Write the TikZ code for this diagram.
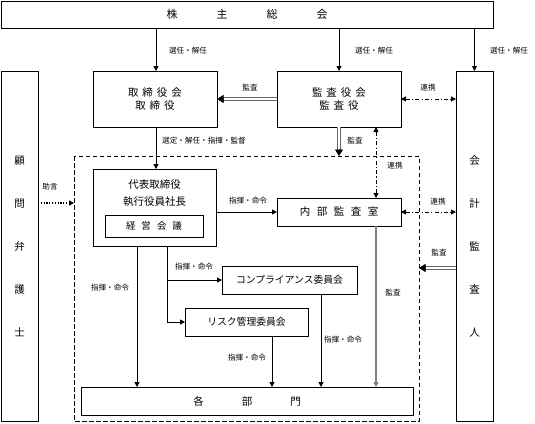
\documentclass[tikz,border=0pt]{standalone}
\usepackage{fontspec}
\newfontfamily\jp{Noto Sans CJK JP}
\usetikzlibrary{arrows.meta,calc}
\begin{document}
\begin{tikzpicture}[x=1pt,y=-1pt,
  box/.style={draw, line width=0.9pt, inner sep=0pt, outer sep=0pt, align=center, font=\jp\fontsize{10.5}{12.5}\selectfont},
  lbl/.style={font=\jp\fontsize{7.6}{8}\selectfont, inner sep=0pt},
  arr/.style={line width=1pt, -{Triangle[length=5pt,width=5pt]}},
  dblline/.style={draw=black!60, line width=3.2pt, shorten >=5pt, postaction={draw=white, line width=1.2pt}},
  dbltip/.style={draw=black, line width=0.5pt, -{Triangle[length=6.5pt,width=8pt]}},
  renkei/.style={line width=1pt, dash pattern=on 4pt off 2.2pt on 1.2pt off 2.2pt, {Triangle[length=5pt,width=5pt]}-{Triangle[length=5pt,width=5pt]}},
  grayarr/.style={draw=black!50, line width=1.8pt, -{Triangle[length=5pt,width=5pt]}}
]
\useasboundingbox (0,0) rectangle (535,423);

% boxes
\node[box, minimum width=492pt, minimum height=27pt, font=\jp\fontsize{11}{12}\selectfont] (top) at (247,14.5)
  {株\hspace{39pt}主\hspace{39pt}総\hspace{39pt}会};
\node[box, minimum width=37pt, minimum height=350pt, font=\jp\fontsize{10.5}{43}\selectfont] (komon) at (19.5,246)
  {顧\\問\\弁\\護\\士};
\node[box, minimum width=37pt, minimum height=350pt, font=\jp\fontsize{10.5}{43}\selectfont] (kaikei) at (474.5,246)
  {会\\計\\監\\査\\人};
\node[box, minimum width=124pt, minimum height=56pt] (tori) at (155,99)
  {取\hspace{4pt}締\hspace{4pt}役\hspace{4pt}会\\取\hspace{4pt}締\hspace{4pt}役};
\node[box, minimum width=124pt, minimum height=56pt] (kansa) at (339,99)
  {監\hspace{4pt}査\hspace{4pt}役\hspace{4pt}会\\監\hspace{4pt}査\hspace{4pt}役};

\draw[line width=0.9pt, dash pattern=on 4.5pt off 2.5pt] (74,156) rectangle (419,421);

\node[box, minimum width=123pt, minimum height=77pt, align=center] (daihyo) at (154.5,207.5) {};
\node[inner sep=0pt, align=center, font=\jp\fontsize{10.5}{17}\selectfont] (daihyoT) at (154.5,193.5) {代表取締役\\執行役員社長};
\node[box, minimum width=98pt, minimum height=22pt, font=\jp\fontsize{9.5}{11}\selectfont] (keiei) at (154,226)
  {経\hspace{6pt}営\hspace{6pt}会\hspace{6pt}議};
\node[box, minimum width=124pt, minimum height=28pt] (naibu) at (339,212)
  {内\hspace{6.5pt}部\hspace{6.5pt}監\hspace{6.5pt}査\hspace{6.5pt}室};
\node[box, minimum width=135pt, minimum height=28pt, font=\jp\fontsize{9.8}{11}\selectfont] (comp) at (289.5,280)
  {コンプライアンス委員会};
\node[box, minimum width=123pt, minimum height=28pt, font=\jp\fontsize{9.8}{11}\selectfont] (risk) at (246.5,322)
  {リスク管理委員会};
\node[box, minimum width=332pt, minimum height=28pt, font=\jp\fontsize{10.5}{12}\selectfont] (bumon) at (247,401)
  {各\hspace{38pt}部\hspace{38pt}門};

% helper coordinates
\coordinate (xa) at (156,0);
\coordinate (xr) at (376,0);
\coordinate (xl1) at (137,0);
\coordinate (xl2) at (167,0);
\coordinate (xrisk) at (272,0);
\coordinate (xcomp) at (321,0);
\coordinate (dashtop) at (339,156);
\coordinate (dashleft) at (74,203);
\coordinate (dashright) at (419,268);
\coordinate (yjogen) at (0,203);
\coordinate (ykansa) at (0,268);
\coordinate (kaiw) at (kaikei.west |- ykansa);

% arrows from shareholders
\draw[arr] (top.south -| xa) -- (tori.north -| xa);
\draw[arr] (top.south -| kansa.north) -- (kansa.north);
\draw[arr] (top.south -| kaikei.north) -- (kaikei.north);
\node[lbl] (l1) at (188,51) {選任・解任};
\node[lbl] (l2) at (374,51) {選任・解任};
\node[lbl] (l3) at (509,51) {選任・解任};

% audit board -> board
\draw[dblline] (kansa.west) -- (tori.east);
\draw[dbltip] ($(tori.east)!7pt!(kansa.west)$) -- (tori.east);
\node[lbl] (l4) at (250,88) {監査};
% renkei kansa - kaikei
\draw[renkei] (kansa.east) -- (kansa.east -| kaikei.west);
\node[lbl] (l5) at (428,88) {連携};

% board -> president
\draw[arr] (tori.south -| xa) -- (daihyo.north -| xa);
\node[lbl, anchor=west] (l6) at (162,141) {選定・解任・指揮・監督};

% kansa audit down
\draw[dblline] (kansa.south) -- (dashtop);
\draw[dbltip] ($(dashtop)!7pt!(kansa.south)$) -- (dashtop);
\node[lbl] (l7) at (355,141) {監査};
% renkei vertical
\draw[renkei] (kansa.south -| xr) -- (naibu.north -| xr);
\node[lbl] (l8) at (395,166) {連携};

% advice
\draw[line width=1.2pt, dash pattern=on 1.2pt off 1.6pt, -{Triangle[length=5pt,width=5pt]}] (komon.east |- yjogen) -- (dashleft);
\node[lbl] (l9) at (50,187) {助言};

% president -> internal audit
\draw[arr] (daihyo.east |- naibu.west) -- (naibu.west);
\node[lbl] (l10) at (248,201) {指揮・命令};
% renkei naibu - kaikei
\draw[renkei] (naibu.east) -- (naibu.east -| kaikei.west);
\node[lbl] (l11) at (438,202) {連携};
% kaikei audit
\draw[dblline] (kaiw) -- (dashright);
\draw[dbltip] ($(dashright)!7pt!(kaiw)$) -- (dashright);
\node[lbl] (l12) at (439,253) {監査};

% president -> departments
\draw[arr] (daihyo.south -| xl1) -- (bumon.north -| xl1);
\node[lbl] (l13) at (110,288) {指揮・命令};
% president -> committees
\draw[arr] (daihyo.south -| xl2) |- (risk.west);
\draw[arr] (comp.west -| xl2) -- (comp.west);
\node[lbl] (l14) at (194,267) {指揮・命令};
% committees -> departments
\draw[arr] (risk.south -| xrisk) -- (bumon.north -| xrisk);
\node[lbl] (l15) at (247,358) {指揮・命令};
\draw[arr] (comp.south -| xcomp) -- (bumon.north -| xcomp);
\node[lbl] (l16) at (343,340) {指揮・命令};
% internal audit -> departments
\draw[grayarr] (naibu.south -| xr) -- (bumon.north -| xr);
\node[lbl] (l17) at (393,293) {監査};
\end{tikzpicture}
\end{document}
